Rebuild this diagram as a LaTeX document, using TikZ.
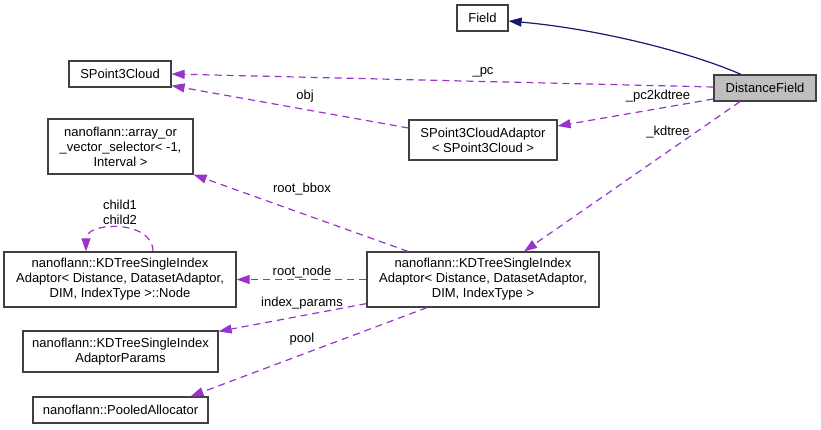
\documentclass[tikz,border=0pt]{standalone}
\usepackage{fontspec}
\setmainfont{Liberation Sans}
\usetikzlibrary{arrows.meta}
\definecolor{edgepurple}{HTML}{9A32CD}
\definecolor{edgenavy}{HTML}{191970}
\definecolor{boxgray}{HTML}{BFBFBF}
\definecolor{boxline}{HTML}{404040}

\begin{document}
\begin{tikzpicture}[x=1pt,y=-1pt,
  font=\fontsize{13}{15}\selectfont,
  cls/.style={draw=boxline,line width=1.2pt,fill=white,inner sep=0pt,align=center},
  member/.style={-{Triangle[length=13pt,width=9pt]},line width=1.2pt,edgepurple,dash pattern=on 7pt off 5pt},
  inherit/.style={-{Triangle[length=13pt,width=9pt]},line width=1.2pt,edgenavy},
  lbl/.style={inner sep=0pt,align=center}]
  \useasboundingbox (0,0) rectangle (821,429);

  \node[cls,minimum width=51pt,minimum height=26pt] (fd) at (482.5,18) {Field};
  \node[cls,minimum width=102pt,minimum height=26pt] (sp) at (120,74) {SPoint3Cloud};
  \node[cls,fill=boxgray,minimum width=102pt,minimum height=26pt] (df) at (765,88) {DistanceField};
  \node[cls,minimum width=148pt,minimum height=40pt] (ad) at (483,140) {SPoint3CloudAdaptor\\< SPoint3Cloud >};
  \node[cls,minimum width=145pt,minimum height=55pt] (ar) at (120.5,146.5) {nanoflann::array\_or\\\_vector\_selector< -1,\\Interval >};
  \node[cls,minimum width=232pt,minimum height=55pt] (nd) at (120,279.5) {nanoflann::KDTreeSingleIndex\\Adaptor< Distance, DatasetAdaptor,\\DIM, IndexType >::Node};
  \node[cls,minimum width=232pt,minimum height=55pt] (mn) at (483,279.5) {nanoflann::KDTreeSingleIndex\\Adaptor< Distance, DatasetAdaptor,\\DIM, IndexType >};
  \node[cls,minimum width=195pt,minimum height=41pt] (pr) at (120.5,351.5) {nanoflann::KDTreeSingleIndex\\AdaptorParams};
  \node[cls,minimum width=175pt,minimum height=26pt] (pa) at (120.5,410) {nanoflann::PooledAllocator};

  % inheritance
  \draw[inherit] ([xshift=-24pt]df.north) .. controls +(-50,-22) and +(90,8) .. ([yshift=-3pt]fd.east);

  % members
  \draw[member] ([yshift=1pt]df.west) -- (sp.east);
  \node[lbl] (l_pc) at (483,72) {\_pc};
  \draw[member] ([yshift=-11pt]df.west) -- ([yshift=14pt]ad.east);
  \node[lbl] (l_pc2) at (658,96) {\_pc2kdtree};
  \draw[member] ([xshift=-25pt]df.south) -- ([xshift=41pt]mn.north);
  \node[lbl] (l_kd) at (668,132) {\_kdtree};
  \draw[member] ([yshift=12pt]ad.west) -- ([yshift=2pt]sp.south east);
  \node[lbl] (l_obj) at (305,96) {obj};
  \draw[member] ([xshift=-75pt]mn.north) -- (ar.south east);
  \node[lbl] (l_bbox) at (302,189) {root\_bbox};
  \draw[member] (mn.west) -- (nd.east);
  \node[lbl] (l_root) at (302,272) {root\_node};
  \draw[member] ([yshift=4pt]mn.south west) -- ([yshift=-1pt]pr.north east);
  \node[lbl] (l_idx) at (302,303) {index\_params};
  \draw[member] ([xshift=-56pt]mn.south) -- ([xshift=70pt]pa.north);
  \node[lbl] (l_pool) at (302,339) {pool};
  \draw[member] ([xshift=33pt]nd.north) .. controls +(0,-32) and +(0,-30) .. ([xshift=-34pt]nd.north);
  \node[lbl] (l_child) at (120,212) {child1\\child2};
\end{tikzpicture}
\end{document}
